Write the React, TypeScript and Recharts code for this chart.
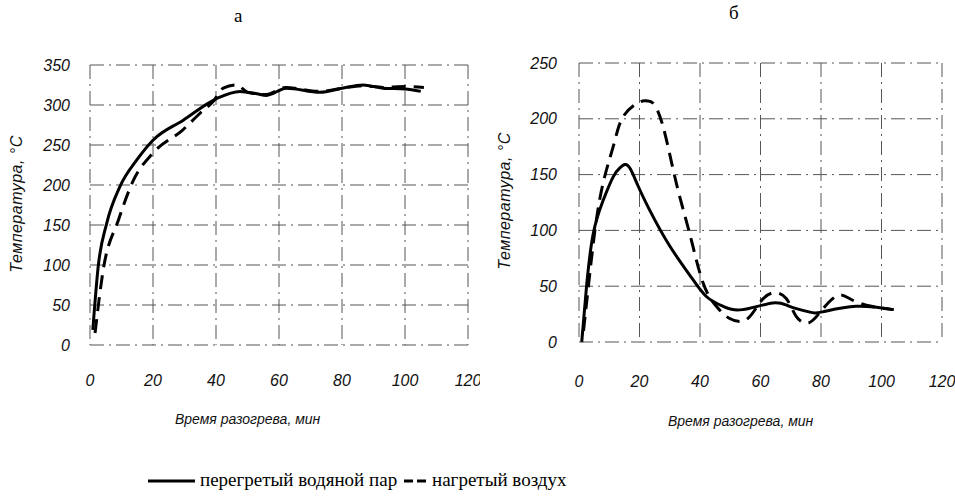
import { LineChart, Line, XAxis, YAxis, CartesianGrid } from 'recharts';

const timeTicks = [0, 20, 40, 60, 80, 100, 120];
const tempTicksA = [0, 50, 100, 150, 200, 250, 300, 350];
const tempTicksB = [0, 50, 100, 150, 200, 250];

// а: перегретый водяной пар
const steamTimeA = [0.9, 2.6, 5.3, 9.5, 14.8, 20, 29.6, 40.2, 47.6, 53, 56, 62.4, 73, 80, 86.7, 93, 100, 105];
const steamTempA = [19, 98, 152, 198, 231, 256, 281, 308, 317, 314, 312, 321, 316, 321, 325, 321, 320, 317];
// а: нагретый воздух
const airTimeA = [1.6, 4.2, 9, 13.8, 20, 29.5, 35, 39, 42.3, 46.6, 50, 56, 62, 73, 80, 87, 93, 100, 106];
const airTempA = [15, 94, 156, 206, 240, 269, 290, 304, 321, 325, 316, 313, 322, 317, 321, 324, 322, 323, 322];

// б: перегретый водяной пар
const steamTimeB = [0.9, 2.5, 4.7, 8, 11.3, 13.5, 15.2, 17, 19.5, 23.4, 30, 36.6, 42, 47.6, 54, 64, 69.6, 76, 80.5, 91.6, 104];
const steamTempB = [0, 50, 97, 127, 148, 156, 159, 155, 140, 118, 86, 60, 41, 32, 29, 35, 32, 27, 27, 32, 29];
// б: нагретый воздух
const airTimeB = [1.5, 3.6, 7, 11.3, 14.6, 20, 22.5, 24.5, 27.8, 32.2, 36.6, 41, 45.4, 49.8, 55.3, 59.7, 64, 68.5, 71.8, 75.7, 79.5, 85, 89.4, 95, 104];
const airTempB = [10, 62, 130, 175, 202, 215, 216, 214, 193, 142, 97, 53, 32, 21, 20, 35, 44, 39, 23, 17, 26, 41, 39, 33, 29];

const zip = (t: number[], v: number[]) => t.map((x, i) => ({ t: x, v: v[i] }));

const tickStyle = {
  fontSize: 16,
  fontStyle: 'italic',
  fill: '#111',
  fontFamily: 'Liberation Sans',
};

const labelStyle: React.CSSProperties = {
  position: 'absolute',
  fontFamily: 'Liberation Sans',
  fontStyle: 'italic',
  color: '#111',
  whiteSpace: 'nowrap',
};

type PanelProps = {
  left: number;
  width: number;
  margin: { top: number; right: number; bottom: number; left: number };
  yTicks: number[];
  yMax: number;
  steam: { t: number; v: number }[];
  air: { t: number; v: number }[];
  yTickMargin: number;
  xTickMargin: number;
  curve: 'monotone' | 'natural';
};

const Panel = ({ left, width, margin, yTicks, yMax, steam, air, yTickMargin, xTickMargin, curve }: PanelProps) => (
  <div style={{ position: 'absolute', left, top: 0 }}>
    <LineChart width={width} height={497} margin={margin}>
      <CartesianGrid stroke='#555' strokeWidth={1} strokeDasharray='14 5 2 5' />
      <XAxis
        type='number'
        dataKey='t'
        domain={[0, 120]}
        ticks={timeTicks}
        axisLine={false}
        tickLine={false}
        tick={tickStyle}
        tickMargin={xTickMargin}
        height={30}
        allowDataOverflow
      />
      <YAxis
        type='number'
        dataKey='v'
        domain={[0, yMax]}
        ticks={yTicks}
        axisLine={false}
        tickLine={false}
        tick={tickStyle}
        tickMargin={yTickMargin}
        width={60}
      />
      <Line
        data={steam}
        dataKey='v'
        type={curve}
        stroke='#000'
        strokeWidth={3}
        dot={false}
        isAnimationActive={false}
      />
      <Line
        data={air}
        dataKey='v'
        type={curve}
        stroke='#000'
        strokeWidth={3}
        strokeDasharray='14 8'
        dot={false}
        isAnimationActive={false}
      />
    </LineChart>
  </div>
);

const App = () => {
  return (
    <div style={{ position: 'absolute', left: 0, top: 0, width: 955, height: 497, background: '#fff' }}>
      <Panel
        left={0}
        width={480}
        margin={{ top: 65, right: 12, bottom: 122, left: 30 }}
        yTicks={tempTicksA}
        yMax={350}
        steam={zip(steamTimeA, steamTempA)}
        air={zip(airTimeA, airTempA)}
        yTickMargin={14}
        xTickMargin={24}
        curve='monotone'
      />
      <Panel
        left={480}
        width={475}
        margin={{ top: 63, right: 13, bottom: 125, left: 39 }}
        yTicks={tempTicksB}
        yMax={250}
        steam={zip(steamTimeB, steamTempB)}
        air={zip(airTimeB, airTempB)}
        yTickMargin={16}
        xTickMargin={28}
        curve='natural'
      />

      <div style={{ position: 'absolute', left: 234, top: 5, fontFamily: 'Liberation Serif', fontSize: 19 }}>а</div>
      <div style={{ position: 'absolute', left: 729, top: 2, fontFamily: 'Liberation Serif', fontSize: 19 }}>б</div>

      <div style={{ ...labelStyle, left: 175, top: 411, fontSize: 14 }}>Время разогрева, мин</div>
      <div style={{ ...labelStyle, left: 668, top: 413, fontSize: 14 }}>Время разогрева, мин</div>

      <div
        style={{
          ...labelStyle,
          left: 17,
          top: 204,
          fontSize: 16,
          letterSpacing: 0.5,
          transform: 'translate(-50%, -50%) rotate(-90deg)',
        }}
      >
        Температура, °С
      </div>
      <div
        style={{
          ...labelStyle,
          left: 505,
          top: 201,
          fontSize: 16,
          letterSpacing: 0.5,
          transform: 'translate(-50%, -50%) rotate(-90deg)',
        }}
      >
        Температура, °С
      </div>

      <svg style={{ position: 'absolute', left: 0, top: 470 }} width={955} height={24}>
        <line x1={148} y1={11} x2={195} y2={11} stroke='#000' strokeWidth={3} />
        <line x1={404} y1={11} x2={426} y2={11} stroke='#000' strokeWidth={3} strokeDasharray='9 4' />
      </svg>
      <div style={{ position: 'absolute', left: 200, top: 469, fontFamily: 'Liberation Serif', fontSize: 19 }}>
        перегретый водяной пар
      </div>
      <div style={{ position: 'absolute', left: 432, top: 469, fontFamily: 'Liberation Serif', fontSize: 19 }}>
        нагретый воздух
      </div>
    </div>
  );
};

export default App;
